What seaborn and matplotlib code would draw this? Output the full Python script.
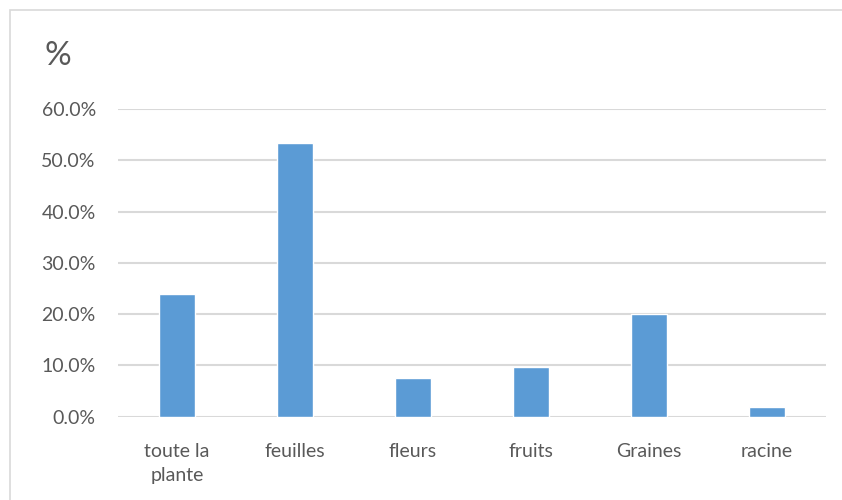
import matplotlib
matplotlib.use('Agg')
import matplotlib.pyplot as plt
import seaborn as sns
import pandas as pd
from matplotlib.patches import Rectangle
from matplotlib.ticker import FuncFormatter

categories = ['toute la\nplante', 'feuilles', 'fleurs', 'fruits', 'Graines', 'racine']
values = [0.240, 0.533, 0.076, 0.096, 0.201, 0.018]

df = pd.DataFrame({'partie': categories, 'pct': values})

sns.set_style('white')
plt.rcParams['font.family'] = ['Lato', 'DejaVu Sans']

fig = plt.figure(figsize=(8.42, 5), dpi=100)
ax = fig.add_axes([118 / 842, 1 - 416.7 / 500, 708 / 842, (416.7 - 109) / 500])

sns.barplot(data=df, x='partie', y='pct', color='#5B9BD5', width=0.305,
            saturation=1, ax=ax, zorder=3)

ax.set_ylim(0, 0.6)
ax.set_xlim(-0.5, 5.5)
ax.set_yticks([0, 0.1, 0.2, 0.3, 0.4, 0.5, 0.6])
ax.yaxis.set_major_formatter(FuncFormatter(lambda v, p: f'{v * 100:.1f}%'))
ax.grid(axis='y', color='#D9D9D9', linewidth=1.5, zorder=0)
ax.grid(axis='x', visible=False)
for s in ax.spines.values():
    s.set_visible(False)
ax.tick_params(axis='y', length=0, pad=16, labelsize=14, labelcolor='#595959')
ax.tick_params(axis='x', length=0, pad=19, labelsize=14, labelcolor='#595959')
for lab in ax.get_xticklabels():
    lab.set_linespacing(1.5)
ax.set_xlabel('')
ax.set_ylabel('')

fig.text(58 / 842, 1 - 56 / 500, '%', fontsize=24, color='#595959',
         ha='center', va='center')

fig.patches.append(Rectangle((10 / 842, -0.1), 1.2, 1.1 - 10 / 500, transform=fig.transFigure,
                             fill=False, edgecolor='#D9D9D9', linewidth=1.2))

fig.savefig('out.png', dpi=100)
